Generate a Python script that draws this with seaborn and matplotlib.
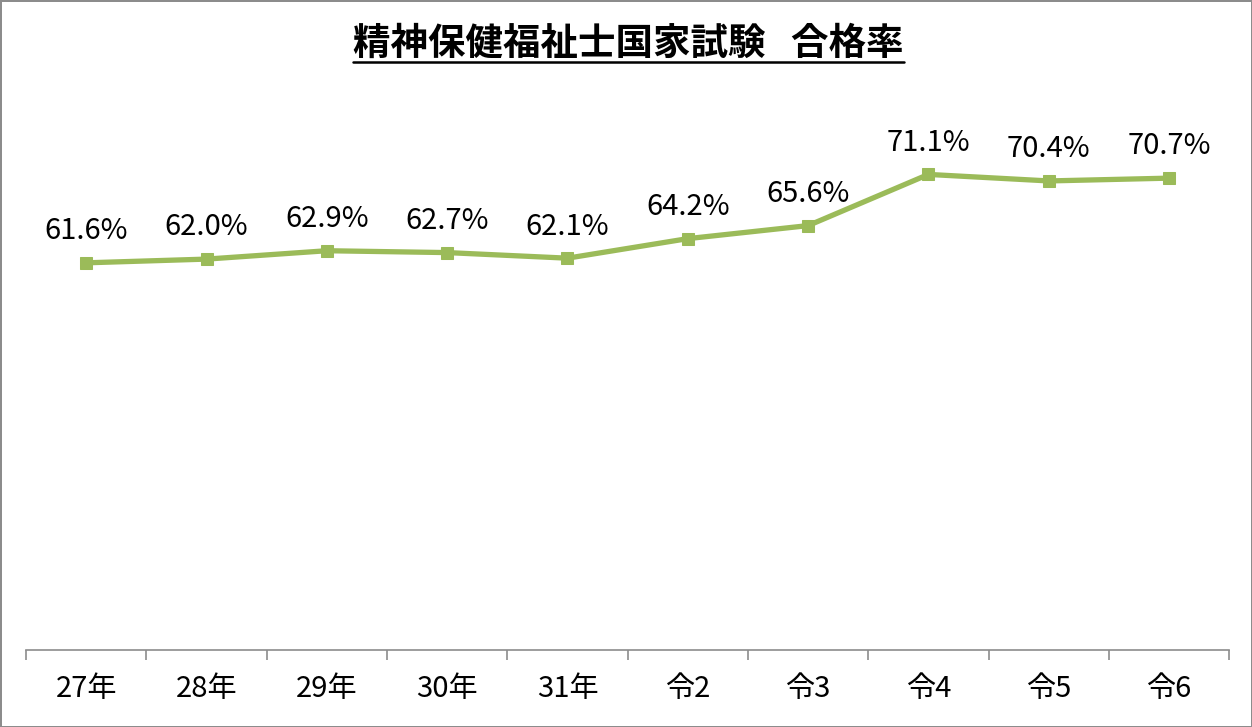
import matplotlib
matplotlib.use("Agg")
import matplotlib.pyplot as plt
import numpy as np
import pandas as pd
import seaborn as sns
from matplotlib.lines import Line2D

# data
years = ["27年", "28年", "29年", "30年", "31年", "令2", "令3", "令4", "令5", "令6"]
pass_rate = [61.6, 62.0, 62.9, 62.7, 62.1, 64.2, 65.6, 71.1, 70.4, 70.7]
title = "精神保健福祉士国家試験   合格率"

sns.set_theme(style="white")
plt.rcParams['font.family'] = ['Noto Sans CJK JP', 'DejaVu Sans']

df = pd.DataFrame({"year": years, "rate": pass_rate})

fig = plt.figure(figsize=(12.52, 7.27), dpi=100)
fig.patch.set_edgecolor("#8c8c8c")
fig.patch.set_linewidth(2)
ax = fig.add_axes([0.0208, 0.106, 0.961, 0.768])

green = "#9BBB59"
sns.lineplot(data=df, x="year", y="rate", ax=ax, color=green, linewidth=3.8,
             marker="s", markersize=8, markeredgecolor=green, sort=False)

for i, v in enumerate(pass_rate):
    ax.annotate(f"{v:.1f}%", (i, v), xytext=(0, 12), textcoords="offset points",
                ha="center", va="bottom", fontsize=21, color="black")

ax.set_ylim(20, 80)
ax.set_xlim(-0.5, len(years) - 0.5)
ax.set_yticks([])
ax.set_xlabel("")
ax.set_ylabel("")

# category boundaries as major ticks, labels on minor ticks
ax.set_xticks(np.arange(-0.5, len(years)), labels=[""] * (len(years) + 1))
ax.set_xticks(np.arange(len(years)), labels=years, minor=True)
ax.tick_params(axis="x", which="both", bottom=True)
ax.tick_params(axis="x", which="major", length=7, width=1.2, color="#8c8c8c", direction="out")
ax.tick_params(axis="x", which="minor", length=0, labelsize=21, pad=17, labelcolor="black")

for s in ["top", "left", "right"]:
    ax.spines[s].set_visible(False)
ax.spines["bottom"].set_color("#8c8c8c")
ax.spines["bottom"].set_linewidth(1.2)

t = fig.text(0.502, 0.94, title, ha="center", va="center", fontsize=27, fontweight="bold",
             color="black")
fig.canvas.draw()
bb = t.get_window_extent().transformed(fig.transFigure.inverted())
fig.add_artist(Line2D([bb.x0, bb.x1], [bb.y0 + 0.002, bb.y0 + 0.002], color="black", linewidth=1.8,
                      transform=fig.transFigure))

fig.savefig("out.png", dpi=100, edgecolor=fig.get_edgecolor())
